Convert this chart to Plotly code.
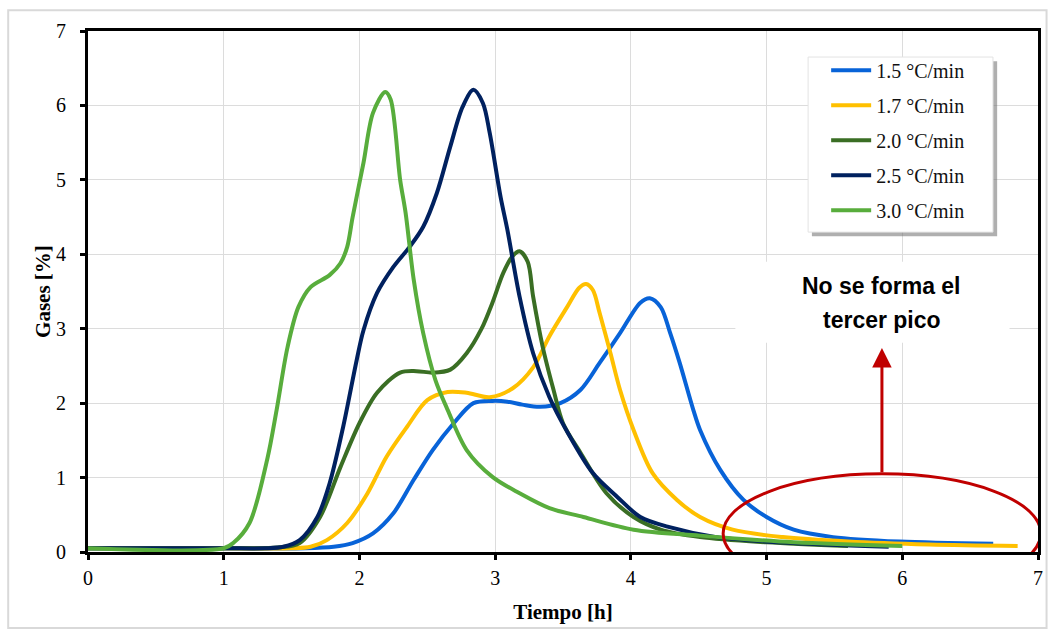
import plotly.graph_objects as go

# ---- data ----
t_15 = [0, 1.0, 1.6, 1.81, 1.95, 2.10, 2.25, 2.40, 2.54, 2.69, 2.84, 2.98, 3.09, 3.20, 3.33, 3.48, 3.63, 3.77, 3.92, 4.07, 4.14, 4.22, 4.29, 4.36, 4.46, 4.51, 4.66, 4.83, 5.0, 5.20, 5.49, 5.98, 6.67]
g_15 = [0.05, 0.05, 0.05, 0.07, 0.12, 0.25, 0.52, 0.97, 1.37, 1.72, 2.00, 2.03, 2.02, 1.98, 1.95, 2.00, 2.18, 2.54, 2.94, 3.35, 3.41, 3.29, 2.94, 2.54, 1.91, 1.64, 1.10, 0.70, 0.47, 0.30, 0.20, 0.14, 0.11]

t_17 = [0, 1.0, 1.5, 1.64, 1.76, 1.91, 2.06, 2.20, 2.35, 2.50, 2.65, 2.79, 2.96, 3.13, 3.28, 3.40, 3.53, 3.62, 3.67, 3.72, 3.77, 3.85, 3.92, 4.02, 4.16, 4.34, 4.51, 4.75, 5.12, 5.6, 6.2, 6.85]
g_17 = [0.05, 0.05, 0.05, 0.07, 0.16, 0.39, 0.79, 1.28, 1.68, 2.04, 2.15, 2.14, 2.08, 2.20, 2.48, 2.90, 3.29, 3.55, 3.60, 3.52, 3.21, 2.67, 2.18, 1.64, 1.06, 0.70, 0.47, 0.30, 0.20, 0.14, 0.10, 0.08]

t_20 = [0, 1.0, 1.4, 1.56, 1.71, 1.86, 2.00, 2.13, 2.30, 2.42, 2.54, 2.67, 2.79, 2.90, 2.98, 3.06, 3.13, 3.18, 3.24, 3.28, 3.35, 3.43, 3.50, 3.63, 3.82, 4.02, 4.22, 4.51, 5.0, 5.6]
g_20 = [0.05, 0.05, 0.06, 0.12, 0.47, 1.14, 1.73, 2.14, 2.41, 2.43, 2.41, 2.45, 2.67, 3.00, 3.35, 3.75, 3.98, 4.04, 3.90, 3.43, 2.76, 2.18, 1.73, 1.33, 0.79, 0.47, 0.30, 0.20, 0.13, 0.08]

t_25 = [0, 1.0, 1.3, 1.44, 1.56, 1.69, 1.78, 1.88, 1.98, 2.03, 2.13, 2.25, 2.37, 2.47, 2.57, 2.67, 2.76, 2.84, 2.91, 2.96, 3.04, 3.09, 3.18, 3.28, 3.40, 3.53, 3.72, 3.90, 4.07, 4.27, 4.63, 5.2, 5.9]
g_25 = [0.05, 0.05, 0.05, 0.07, 0.16, 0.47, 0.92, 1.68, 2.58, 2.98, 3.48, 3.83, 4.10, 4.37, 4.82, 5.45, 5.98, 6.21, 6.03, 5.63, 4.77, 4.33, 3.43, 2.67, 2.08, 1.62, 1.06, 0.74, 0.47, 0.34, 0.20, 0.12, 0.07]

t_30 = [0, 1.0, 1.07, 1.19, 1.32, 1.39, 1.47, 1.55, 1.64, 1.78, 1.86, 1.91, 1.95, 2.03, 2.10, 2.19, 2.23, 2.30, 2.34, 2.40, 2.47, 2.56, 2.65, 2.79, 2.98, 3.18, 3.40, 3.65, 4.02, 4.51, 5.2, 6.0]
g_30 = [0.05, 0.05, 0.12, 0.39, 1.24, 1.91, 2.75, 3.29, 3.56, 3.72, 3.88, 4.10, 4.50, 5.23, 5.90, 6.18, 6.08, 5.00, 4.56, 3.66, 2.94, 2.31, 1.91, 1.37, 1.01, 0.79, 0.59, 0.47, 0.30, 0.22, 0.13, 0.08]

series_names = ["1.5 °C/min", "1.7 °C/min", "2.0 °C/min", "2.5 °C/min", "3.0 °C/min"]
series_t = [t_15, t_17, t_20, t_25, t_30]
series_g = [g_15, g_17, g_20, g_25, g_30]
series_colors = ["#0863D8", "#FFC000", "#3A6E24", "#00215F", "#58AD3C"]

x_ticks = [0, 1, 2, 3, 4, 5, 6, 7]
y_ticks = [0, 1, 2, 3, 4, 5, 6, 7]

note_line1 = "No se forma el"
note_line2 = "tercer pico"

fig = go.Figure()
for i, (name, t, g, c) in enumerate(zip(series_names, series_t, series_g, series_colors)):
    fig.add_trace(go.Scatter(
        x=t, y=g, name=name, mode="lines",
        line=dict(color=c, width=4, shape="spline", smoothing=0.9),
        legendgroup=f"g{i}",
    ))

serif = "Liberation Serif, Times New Roman, serif"

fig.update_layout(
    width=1051, height=634,
    margin=dict(l=88, r=13, t=31, b=82),
    plot_bgcolor="white", paper_bgcolor="white",
    showlegend=True,
    legend=dict(
        x=0.777, y=0.962, xanchor="left", yanchor="top",
        bgcolor="rgba(0,0,0,0)", borderwidth=0,
        font=dict(family=serif, size=20, color="#111"),
        traceorder="grouped", tracegroupgap=6,
        itemwidth=40,
    ),
    xaxis=dict(
        range=[0, 7], tickvals=x_ticks, ticktext=[str(v) for v in x_ticks],
        showgrid=True, gridcolor="#DCDCDC", gridwidth=1,
        showline=True, linecolor="black", linewidth=3, mirror=True,
        ticks="outside", ticklen=5, tickwidth=3, tickcolor="black",
        ticklabelstandoff=1, automargin=False,
        tickfont=dict(family=serif, size=20, color="black"),
        title=dict(text="<b>Tiempo [h]</b>", font=dict(family=serif, size=21, color="black"), standoff=17),
        zeroline=False,
    ),
    yaxis=dict(
        range=[0, 7], tickvals=y_ticks, ticktext=[str(v) for v in y_ticks],
        showgrid=True, gridcolor="#DCDCDC", gridwidth=1,
        showline=True, linecolor="black", linewidth=3, mirror=True,
        ticks="outside", ticklen=5, tickwidth=3, tickcolor="black",
        ticklabelstandoff=10, automargin=False,
        tickfont=dict(family=serif, size=20, color="black"),
        title=dict(text="<b>Gases [%]</b>", font=dict(family=serif, size=21, color="black"), standoff=0),
        zeroline=False,
    ),
)

# outer chart frame
fig.add_shape(type="rect", xref="paper", yref="paper",
              x0=-0.084, x1=1.009, y0=-0.146, y1=1.040,
              line=dict(color="#D9D9D9", width=2), fillcolor="rgba(0,0,0,0)", layer="below")

# legend box shadow and box
fig.add_shape(type="rect", xref="paper", yref="paper",
              x0=0.762, x1=0.957, y0=0.606, y1=0.942,
              line=dict(width=0), fillcolor="rgba(110,110,110,0.55)", layer="above")
fig.add_shape(type="rect", xref="paper", yref="paper",
              x0=0.758, x1=0.9526, y0=0.614, y1=0.950,
              line=dict(color="#E3E3E3", width=1), fillcolor="white", layer="above")

# white box behind the note
fig.add_shape(type="rect", xref="x", yref="y",
              x0=4.77, x1=6.79, y0=2.81, y1=3.90,
              line=dict(width=0), fillcolor="white", layer="between")

# red ellipse
fig.add_shape(type="circle", xref="x", yref="y",
              x0=4.68, x1=7.02, y0=-0.55, y1=1.05,
              line=dict(color="#C00000", width=3), fillcolor="rgba(0,0,0,0)", layer="above")

# arrow
fig.add_annotation(x=5.85, y=2.74, ax=5.85, ay=1.05, xref="x", yref="y", axref="x", ayref="y",
                   text="", showarrow=True, arrowhead=2, arrowsize=1.3, arrowwidth=3, arrowcolor="#C00000")

fig.add_annotation(x=5.85, y=3.58, xref="x", yref="y", text=f"<b>{note_line1}</b>", showarrow=False,
                   font=dict(family="Liberation Sans, Arial, sans-serif", size=23, color="black"))
fig.add_annotation(x=5.85, y=3.12, xref="x", yref="y", text=f"<b>{note_line2}</b>", showarrow=False,
                   font=dict(family="Liberation Sans, Arial, sans-serif", size=23, color="black"))

fig.write_html("out.html")
